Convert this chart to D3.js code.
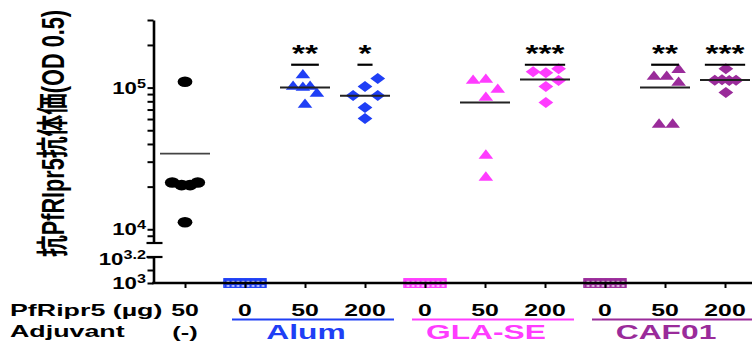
<!DOCTYPE html>
<html>
<head>
<meta charset="utf-8">
<script src="https://cdn.jsdelivr.net/npm/d3@7"></script>
<style>
  body { margin: 0; background: #fff; }
  svg { display: block; }
  text { font-family: "Liberation Sans", Arial, "Noto Sans CJK JP", sans-serif; font-weight: bold; }
</style>
</head>
<body>
<script>
// ---- data ----------------------------------------------------------------
const doseLabels = ["50", "0", "50", "200", "0", "50", "200", "0", "50", "200"];
const adjuvantGroups = ["Alum", "GLA-SE", "CAF01"];
const adjuvantColors = ["#1f3ff5", "#ff3cff", "#9a2b9a"];

// antibody titres (OD 0.5), one array per immunisation group
const noneValues   = [110000, 21400, 20500, 20500, 21400, 11200];
const alum0Values  = [1000, 1000, 1000, 1000, 1000, 1000];
const alum50Values = [124500, 103300, 101600, 103300, 92200, 77100];
const alum200Values = [115800, 101600, 87800, 87800, 72300, 60500];
const gla0Values   = [1000, 1000, 1000, 1000, 1000, 1000];
const gla50Values  = [113800, 115700, 98400, 86400, 33700, 23600];
const gla200Values = [129600, 127500, 136000, 112000, 101600, 78400];
const caf0Values   = [1000, 1000, 1000, 1000, 1000, 1000];
const caf50Values  = [136000, 121500, 121500, 110200, 55800, 55800];
const caf200Values = [136000, 112900, 113500, 112400, 112900, 92200];

// significance vs. the adjuvant-free group
const sigLabels = [null, null, "**", "*", null, null, "***", null, "**", "***"];
const sigLevel = 145000;

// y-axis ticks
const upperMinorTicks = [9000, 20000, 30000, 40000, 50000, 60000, 70000, 80000, 90000, 200000, 300000];
const upperMajorTicks = [10000, 100000];
const lowerTicks = [1000, Math.pow(10, 3.2)];
const lowerMinorTicks = [Math.pow(10, 3.1)];

// ---- group definitions (value array, marker, colour, horizontal spread slots) ----
const groups = [
  { values: noneValues,    shape: "circle",   color: "#000",            slots: [0, -1.5, -0.4, 0.6, 1.5, 0] },
  { values: alum0Values,   shape: "square",   color: adjuvantColors[0], slots: [-2.5, -1.5, -0.5, 0.5, 1.5, 2.5] },
  { values: alum50Values,  shape: "triangle", color: adjuvantColors[0], slots: [-0.25, -1.4, -0.25, 0.6, 1.4, 0] },
  { values: alum200Values, shape: "diamond",  color: adjuvantColors[0], slots: [1.5, 0, -1.4, 1.5, 0, 0] },
  { values: gla0Values,    shape: "square",   color: adjuvantColors[1], slots: [-2.5, -1.5, -0.5, 0.5, 1.5, 2.5] },
  { values: gla50Values,   shape: "triangle", color: adjuvantColors[1], slots: [-1.4, 0.1, 1.5, 0.1, 0.1, 0.1] },
  { values: gla200Values,  shape: "diamond",  color: adjuvantColors[1], slots: [-1.4, 0.1, 1.6, 1.6, 0.1, 0.1] },
  { values: caf0Values,    shape: "square",   color: adjuvantColors[2], slots: [-2.5, -1.5, -0.5, 0.5, 1.5, 2.5] },
  { values: caf50Values,   shape: "triangle", color: adjuvantColors[2], slots: [1.6, -1.3, 0.2, 1.6, -0.7, 0.9] },
  { values: caf200Values,  shape: "diamond",  color: adjuvantColors[2], slots: [0.1, -1.2, -0.35, 0.5, 1.3, 0.1] }
];

// ---- layout ----------------------------------------------------------------
const W = 752, H = 342;
const axisX = 153.5;
const svg = d3.select("body").append("svg").attr("width", W).attr("height", H);

// broken log axis: upper segment + short lower segment down to 10^3
const yUpper = d3.scaleLog().domain([8000, 300000]).range([243, 20]);
const yLower = d3.scaleLog().domain([1000, Math.pow(10, 3.2)]).range([283, 257]);
const yPos = v => (v >= 8000 ? yUpper(v) : yLower(v));

const x = d3.scalePoint().domain(d3.range(doseLabels.length)).range([185, 725]);

// hatch patterns for the undetectable (0 µg) groups
const defs = svg.append("defs");
adjuvantColors.forEach((c, i) => {
  const p = defs.append("pattern").attr("id", "hatch" + i)
    .attr("patternUnits", "userSpaceOnUse").attr("width", 5).attr("height", 4.3)
    .attr("x", 0.5).attr("y", 0.4);
  p.append("rect").attr("width", 5).attr("height", 4.3).attr("fill", c);
  p.append("rect").attr("x", 1.3).attr("y", 1.1).attr("width", 2.6).attr("height", 2.2).attr("fill", "#fff");
});

// helper: horizontally stretched bold text
function stretched(g, tx, ty, str, size, sx, anchor, color) {
  return g.append("text")
    .attr("transform", `translate(${tx},${ty}) scale(${sx},1)`)
    .attr("text-anchor", anchor)
    .style("font-size", size + "px")
    .attr("fill", color || "#000")
    .text(str);
}

// ---- marks ---------------------------------------------------------------
const markG = svg.append("g");
const slotUnit = 8.5;

groups.forEach((grp, gi) => {
  const cx = x(gi);
  grp.values.forEach((v, k) => {
    const cy = yPos(v);
    if (grp.shape === "circle") {
      markG.append("ellipse").attr("cx", cx + grp.slots[k] * slotUnit).attr("cy", cy)
        .attr("rx", 7.4).attr("ry", 5.3).attr("fill", grp.color);
    } else if (grp.shape === "triangle") {
      const px = cx + grp.slots[k] * slotUnit;
      markG.append("path")
        .attr("d", `M${px},${cy - 5.2}L${px + 7.3},${cy + 4.2}L${px - 7.3},${cy + 4.2}Z`)
        .attr("fill", grp.color);
    } else if (grp.shape === "diamond") {
      const px = cx + grp.slots[k] * slotUnit;
      markG.append("path")
        .attr("d", `M${px},${cy - 5.5}L${px + 7.4},${cy}L${px},${cy + 5.5}L${px - 7.4},${cy}Z`)
        .attr("fill", grp.color);
    } else if (grp.shape === "square") {
      const ci = adjuvantColors.indexOf(grp.color);
      const px = cx + grp.slots[k] * 7;
      markG.append("rect").attr("x", px - 3.6).attr("y", cy - 4.3)
        .attr("width", 7.2).attr("height", 8.6)
        .attr("fill", `url(#hatch${ci})`);
    }
  });
  // outline of the hatched block
  if (grp.shape === "square") {
    const xs = grp.slots.map(s => cx + s * 7);
    markG.append("rect")
      .attr("x", d3.min(xs) - 3.6).attr("y", yPos(grp.values[0]) - 4.3)
      .attr("width", d3.max(xs) - d3.min(xs) + 7.2).attr("height", 8.6)
      .attr("fill", "none").attr("stroke", grp.color).attr("stroke-width", 1.3);
  }
});

// group means
groups.forEach((grp, gi) => {
  const m = d3.mean(grp.values);
  markG.append("line")
    .attr("x1", x(gi) - 25).attr("x2", x(gi) + 25)
    .attr("y1", yPos(m)).attr("y2", yPos(m))
    .attr("stroke", gi === 0 ? "#444" : "#222").attr("stroke-width", gi === 0 ? 1.6 : 2);
});

// significance bars and stars
sigLabels.forEach((s, gi) => {
  if (!s) return;
  const half = (12.6 * s.length + 2.5) / 2;
  const yy = yPos(sigLevel);
  markG.append("line").attr("x1", x(gi) - half).attr("x2", x(gi) + half)
    .attr("y1", yy).attr("y2", yy).attr("stroke", "#000").attr("stroke-width", 2.2);
  stretched(markG, x(gi), yy - 3, s, 23, 1.45, "middle");
});

// ---- axes ----------------------------------------------------------------
const axG = svg.append("g");

// upper y segment
const upperAxis = axG.append("g").attr("transform", `translate(${axisX},0)`)
  .call(d3.axisLeft(yUpper).tickValues(upperMinorTicks.concat(upperMajorTicks))
    .tickSize(6).tickSizeOuter(0).tickFormat(""));
// lower y segment
const lowerAxis = axG.append("g").attr("transform", `translate(${axisX},0)`)
  .call(d3.axisLeft(yLower).tickValues(lowerTicks.concat(lowerMinorTicks))
    .tickSize(6).tickSizeOuter(0).tickFormat(""));
[upperAxis, lowerAxis].forEach(a => {
  a.selectAll("path, line").attr("stroke", "#000");
  a.select(".domain").attr("stroke-width", 2.6);
  a.selectAll(".tick line").attr("stroke-width", 2);
});

// break caps
[yUpper(8000), yLower(Math.pow(10, 3.2))].forEach(yy => {
  axG.append("line").attr("x1", axisX - 7).attr("x2", axisX + 9)
    .attr("y1", yy).attr("y2", yy).attr("stroke", "#000").attr("stroke-width", 2.2);
});

// x axis
axG.append("line").attr("x1", axisX - 1.3).attr("x2", W)
  .attr("y1", yLower(1000)).attr("y2", yLower(1000))
  .attr("stroke", "#000").attr("stroke-width", 2.6);
const xAxis = axG.append("g").attr("transform", `translate(0,${yLower(1000)})`)
  .call(d3.axisBottom(x).tickSize(5).tickSizeOuter(0).tickFormat(""));
xAxis.select(".domain").remove();
xAxis.selectAll(".tick line").attr("stroke", "#000").attr("stroke-width", 2);

// y tick labels (powers of ten)
function powLabel(v, yy) {
  const exp = Math.round(Math.log10(v) * 10) / 10;
  const t = axG.append("text")
    .attr("transform", `translate(146,${yy + 6}) scale(1.35,1)`)
    .attr("text-anchor", "end").style("font-size", "16.5px");
  t.append("tspan").text("10");
  t.append("tspan").attr("dy", -6).style("font-size", "12px").text(String(exp));
}
upperMajorTicks.forEach(v => powLabel(v, yUpper(v)));
powLabel(lowerTicks[1], yLower(lowerTicks[1]) + 2);
powLabel(lowerTicks[0], yLower(lowerTicks[0]));

// y title
axG.append("text")
  .attr("transform", "translate(53,133.5) rotate(-90) scale(1,1.5)")
  .attr("text-anchor", "middle").attr("dominant-baseline", "central")
  .attr("textLength", 247).attr("lengthAdjust", "spacingAndGlyphs")
  .style("font-size", "21px")
  .text("抗PfRIpr5抗体価(OD 0.5)");

// ---- category labels -------------------------------------------------------
const labG = svg.append("g");
stretched(labG, 10, 316, "PfRipr5 (µg)", 17.3, 1.55, "start");
stretched(labG, 10, 337, "Adjuvant", 17.3, 1.55, "start");
doseLabels.forEach((d, i) => stretched(labG, x(i), 316, d, 16, 1.55, "middle"));
stretched(labG, x(0), 338, "(-)", 17, 1.5, "middle");

adjuvantGroups.forEach((name, i) => {
  const first = x(1 + i * 3), last = x(3 + i * 3);
  labG.append("line").attr("x1", first - 13).attr("x2", last + 29)
    .attr("y1", 319.5).attr("y2", 319.5)
    .attr("stroke", adjuvantColors[i]).attr("stroke-width", 2);
  stretched(labG, x(2 + i * 3) + 1, 338.5, name, 20.5, 1.55, "middle", adjuvantColors[i]);
});
</script>
</body>
</html>
